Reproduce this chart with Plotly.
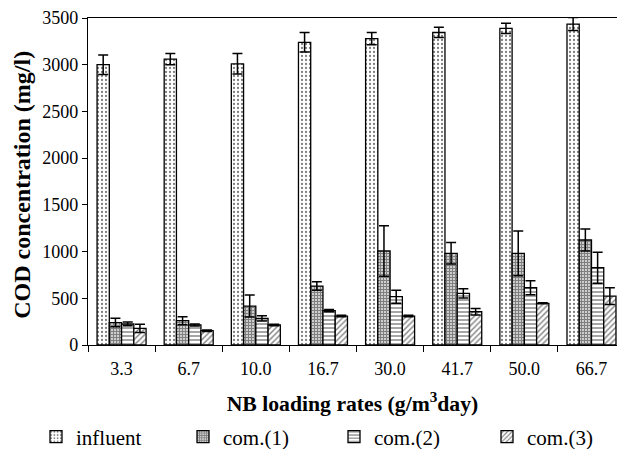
import plotly.graph_objects as go

categories = ["3.3", "6.7", "10.0", "16.7", "30.0", "41.7", "50.0", "66.7"]
influent = [3000, 3060, 3010, 3240, 3280, 3345, 3390, 3435]
influent_err = [105, 60, 110, 105, 65, 55, 55, 70]
com1 = [240, 260, 417, 631, 1006, 981, 981, 1124]
com1_err = [45, 43, 118, 46, 270, 115, 240, 117]
com2 = [225, 214, 285, 367, 517, 553, 613, 827]
com2_err = [20, 10, 29, 12, 70, 50, 75, 165]
com3 = [178, 153, 214, 310, 310, 356, 446, 524]
com3_err = [45, 8, 8, 8, 8, 35, 5, 90]
series_names = ["influent", "com.(1)", "com.(2)", "com.(3)"]

series = [
    (series_names[0], influent, influent_err, dict(shape=".", size=4, solidity=0.25)),
    (series_names[1], com1, com1_err, dict(shape="+", size=3, solidity=0.7)),
    (series_names[2], com2, com2_err, dict(shape="-", size=4, solidity=0.35)),
    (series_names[3], com3, com3_err, dict(shape="/", size=4, solidity=0.35)),
]
legend_ids = ["legend", "legend2", "legend3", "legend4"]
legend_x_px = [36, 183, 334, 487]

W, H = 617, 449
font_family = "Liberation Serif"
fig = go.Figure()
for (name, vals, errs, pat), lid in zip(series, legend_ids):
    fig.add_trace(go.Bar(
        name=name, x=categories, y=vals, legend=lid,
        marker=dict(color="white", line=dict(color="black", width=1.3),
                    pattern=dict(fgcolor="black", bgcolor="white", **pat)),
        error_y=dict(type="data", array=errs, visible=True, color="black",
                     thickness=1.5, width=5),
    ))

legend_common = dict(orientation="h", xref="container", yref="container",
                     xanchor="left", yanchor="middle", y=1 - 437 / H,
                     font=dict(family=font_family, size=21), itemwidth=30,
                     bgcolor="rgba(0,0,0,0)")
layout_legends = {lid: dict(x=px / W, **legend_common)
                  for lid, px in zip(legend_ids, legend_x_px)}

fig.update_layout(
    width=W, height=H,
    barmode="group", bargap=0.27, bargroupgap=0,
    plot_bgcolor="white", paper_bgcolor="white",
    margin=dict(l=88, r=0, t=18, b=104, autoexpand=False),
    font=dict(family=font_family, size=18, color="black"),
    showlegend=True,
    **layout_legends,
)
fig.add_annotation(
    text="<b>COD concentration (mg/l)</b>", textangle=-90,
    xref="paper", yref="paper", x=(22 - 88) / 529, y=0.49,
    xanchor="center", yanchor="middle", showarrow=False,
    font=dict(family=font_family, size=24, color="black"),
)
fig.update_xaxes(
    type="category", range=[-0.5, 7.38], automargin=False,
    showline=True, linecolor="black", linewidth=1.3, mirror=True,
    ticks="outside", tickson="boundaries", ticklen=6, tickcolor="black",
    ticklabelstandoff=7,
    tickfont=dict(family=font_family, size=18),
    title=dict(text="<b>NB loading rates (g/m<sup>3</sup>day)</b>",
               font=dict(family=font_family, size=21.7), standoff=18),
)
fig.update_yaxes(
    range=[0, 3500], tickvals=list(range(0, 3501, 500)), automargin=False,
    showline=True, linecolor="black", linewidth=1.3,
    ticks="outside", ticklen=5, tickcolor="black", showgrid=False, zeroline=False,
    tickfont=dict(family=font_family, size=18),
)

fig.write_html("out.html", config={"displayModeBar": False},
               post_script="document.body.style.margin='0';document.body.style.overflow='hidden';")
